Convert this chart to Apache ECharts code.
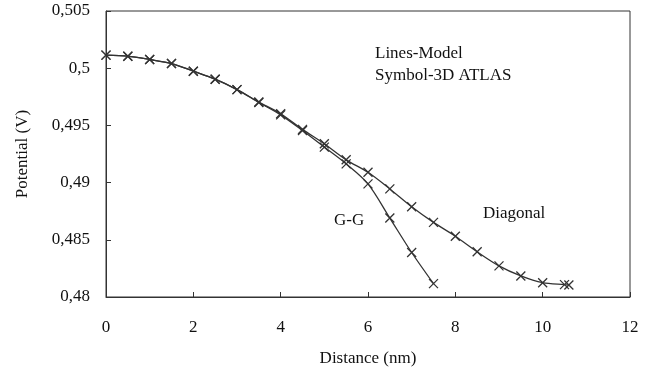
<!DOCTYPE html>
<html>
<head>
<meta charset="utf-8">
<script src="https://cdn.jsdelivr.net/npm/echarts@6/dist/echarts.min.js"></script>
<style>
  html, body { margin: 0; padding: 0; background: #fff; }
  #chart { width: 660px; height: 375px; }
</style>
</head>
<body>
<div id="chart"></div>
<script>
// distance (nm) of the sampled points
const diagonalX = [0, 0.5, 1, 1.5, 2, 2.5, 3, 3.5, 4, 4.5, 5, 5.5, 6, 6.5, 7, 7.5, 8, 8.5, 9, 9.5, 10, 10.5, 10.6]
const diagonalY = [0.50114, 0.50105, 0.50076, 0.50041, 0.49974, 0.49904, 0.49813, 0.49704, 0.49602, 0.49465,
  0.49339, 0.49199, 0.49090, 0.48945, 0.48789, 0.48652, 0.48531, 0.48395, 0.48272, 0.48184, 0.48125, 0.48108, 0.48105]

const ggX = [0, 0.5, 1, 1.5, 2, 2.5, 3, 3.5, 4, 4.5, 5, 5.5, 6, 6.5, 7, 7.5]
const ggY = [0.50114, 0.50105, 0.50076, 0.50041, 0.49974, 0.49904, 0.49813, 0.49700, 0.49592, 0.49455,
  0.49310, 0.49164, 0.48989, 0.48690, 0.48389, 0.48117]

const xTicks = [0, 2, 4, 6, 8, 10, 12]
const yTicks = [0.48, 0.485, 0.49, 0.495, 0.5, 0.505]

const font = 'Liberation Serif'
const ink = '#111'
const lineCol = '#333'

// x-shaped marker, stroked via borderColor
const cross = 'path://M0,0L10,10M10,0L0,10'

const chart = echarts.init(document.getElementById('chart'))

const pairs = (xs, ys) => xs.map((x, i) => [x, ys[i]])

const lineSeries = (name, xs, ys) => ({
  name,
  type: 'line',
  smooth: 0.3,
  data: pairs(xs, ys),
  symbol: cross,
  symbolSize: 9,
  showAllSymbol: true,
  lineStyle: { color: lineCol, width: 1.3 },
  itemStyle: { color: 'none', borderColor: '#333', borderWidth: 1.3 },
  animation: false
})

const note = (text, left, top) => ({
  type: 'text', left, top,
  style: { text, font: '17px "Liberation Serif"', fill: ink }
})

chart.setOption({
  animation: false,
  grid: {
    left: 106, right: 30, top: 11, bottom: 78,
    show: true, borderColor: '#333', borderWidth: 1
  },
  xAxis: {
    type: 'value',
    min: xTicks[0], max: xTicks[xTicks.length - 1], interval: 2,
    name: 'Distance (nm)',
    nameLocation: 'middle',
    nameGap: 53,
    nameTextStyle: { fontFamily: font, fontSize: 17, color: ink },
    axisLine: { lineStyle: { color: '#333' } },
    axisTick: { inside: true, length: 5, lineStyle: { color: '#333' } },
    axisLabel: { fontFamily: font, fontSize: 17, color: ink, margin: 22 },
    splitLine: { show: false }
  },
  yAxis: {
    type: 'value',
    min: yTicks[0], max: yTicks[yTicks.length - 1], interval: 0.005,
    name: 'Potential (V)',
    nameLocation: 'middle',
    nameGap: 75,
    nameTextStyle: { fontFamily: font, fontSize: 17, color: ink },
    axisLine: { show: true, lineStyle: { color: '#333' } },
    axisTick: { inside: true, length: 5, lineStyle: { color: '#333' } },
    axisLabel: {
      fontFamily: font, fontSize: 17, color: ink, margin: 16,
      formatter: v => String(+v.toFixed(3)).replace('.', ',')
    },
    splitLine: { show: false }
  },
  graphic: [
    note('Lines-Model', 375, 45),
    note('Symbol-3D ATLAS', 375, 67),
    note('G-G', 334, 212),
    note('Diagonal', 483, 205)
  ],
  series: [
    lineSeries('Diagonal', diagonalX, diagonalY),
    lineSeries('G-G', ggX, ggY)
  ]
})
</script>
</body>
</html>
